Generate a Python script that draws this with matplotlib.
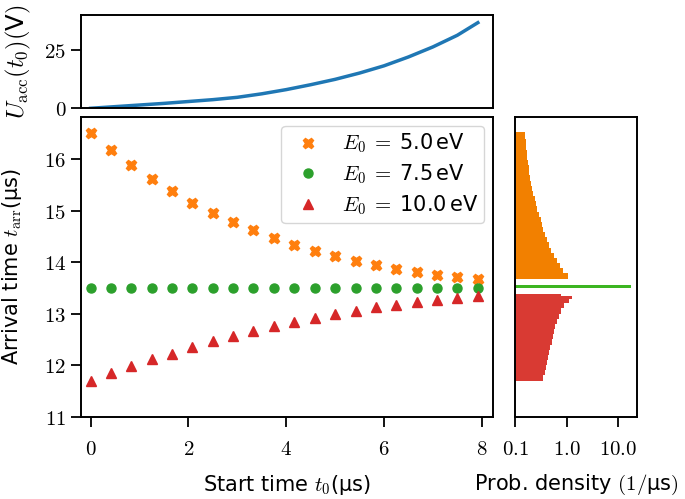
import numpy as np
import matplotlib
matplotlib.use("Agg")
import matplotlib.pyplot as plt
from matplotlib.ticker import NullLocator

plt.rcParams['mathtext.fontset'] = 'cm'
plt.rcParams['font.family'] = ['DejaVu Sans']
plt.rcParams['axes.linewidth'] = 1.4
plt.rcParams['xtick.major.width'] = 1.3
plt.rcParams['ytick.major.width'] = 1.3
plt.rcParams['xtick.major.size'] = 7
plt.rcParams['ytick.major.size'] = 7

# start times of the simulated electrons (us)
t0 = [0.00, 0.42, 0.83, 1.25, 1.67, 2.08, 2.50, 2.92, 3.33, 3.75,
      4.17, 4.58, 5.00, 5.42, 5.83, 6.25, 6.67, 7.08, 7.50, 7.92]

t_arr_5 = [16.51, 16.18, 15.89, 15.62, 15.37, 15.15, 14.96, 14.77, 14.62, 14.47,
           14.34, 14.22, 14.12, 14.02, 13.95, 13.87, 13.80, 13.75, 13.71, 13.67]
t_arr_75 = [13.50] * 20
t_arr_10 = [11.70, 11.84, 11.98, 12.11, 12.22, 12.35, 12.46, 12.56, 12.66, 12.75,
            12.84, 12.92, 12.99, 13.06, 13.12, 13.17, 13.23, 13.27, 13.31, 13.34]

# accelerating voltage ramp
u_t = [0.0, 0.5, 1.0, 1.5, 2.0, 2.5, 3.0, 3.5, 4.0, 4.5, 5.0, 5.5, 6.0, 6.5, 7.0, 7.5, 7.92]
u_acc = [0.0, 0.7, 1.4, 2.1, 2.9, 3.7, 4.7, 6.2, 8.0, 10.1, 12.4, 15.1, 18.2, 22.0, 26.3, 31.3, 36.7]

# arrival time histograms (prob. density, 1/us)
orange_edges = [13.68, 13.78, 13.88, 13.98, 14.08, 14.18, 14.28, 14.38, 14.48, 14.58,
                14.68, 14.78, 14.88, 14.98, 15.08, 15.18, 15.28, 15.38, 15.48, 15.58,
                15.68, 15.78, 15.88, 15.98, 16.08, 16.18, 16.28, 16.38, 16.48, 16.52]
orange_dens = [1.08, 0.86, 0.74, 0.65, 0.57, 0.50, 0.45, 0.41, 0.38, 0.35,
               0.33, 0.31, 0.285, 0.265, 0.25, 0.235, 0.222, 0.212, 0.202, 0.194,
               0.186, 0.180, 0.174, 0.169, 0.165, 0.160, 0.157, 0.153, 0.152]
red_edges = [11.70, 11.80, 11.90, 12.00, 12.10, 12.20, 12.30, 12.40, 12.50, 12.60,
             12.70, 12.80, 12.90, 13.00, 13.10, 13.20, 13.28, 13.34, 13.38]
red_dens = [0.35, 0.38, 0.40, 0.415, 0.43, 0.46, 0.48, 0.51, 0.53, 0.56,
            0.60, 0.65, 0.71, 0.78, 0.90, 1.10, 1.28, 0.77]
green_edges = [13.49, 13.555]
green_dens = [17.4]

x_ticks = [0, 2, 4, 6, 8]
y_ticks = [11, 12, 13, 14, 15, 16]
u_ticks = [0, 25]
d_ticks = [0.1, 1.0, 10.0]

fig = plt.figure(figsize=(6.85, 4.99), dpi=100)
ax_top = fig.add_axes([0.118, 0.783, 0.601, 0.187])
ax = fig.add_axes([0.118, 0.165, 0.601, 0.600])
ax_h = fig.add_axes([0.7523, 0.165, 0.178, 0.600])

fs = 15

# top: voltage
ax_top.plot(u_t, u_acc, color='#1f77b4', lw=2.5)
ax_top.set_xlim(-0.2, 8.22)
ax_top.set_ylim(0, 40)
ax_top.set_yticks(u_ticks)
ax_top.set_yticklabels([f'${v}$' for v in u_ticks], fontsize=fs)
ax_top.tick_params(bottom=False, labelbottom=False)
ax_top.set_ylabel(r'$U_\mathrm{acc}(t_0)($V$)$', fontsize=17.5, labelpad=8)

# main scatter
ax.plot(t0, t_arr_5, 'X', color='#ff7f0e', ms=7.5, ls='', label=r'$E_0\;=\;$5.0$\,$eV')
ax.plot(t0, t_arr_75, 'o', color='#2ca02c', ms=6.5, ls='', label=r'$E_0\;=\;$7.5$\,$eV')
ax.plot(t0, t_arr_10, '^', color='#d62728', ms=6.5, ls='', label=r'$E_0\;=\;$10.0$\,$eV')
ax.set_xlim(-0.2, 8.22)
ax.set_ylim(11, 16.81)
ax.set_xticks(x_ticks)
ax.set_xticklabels([f'${v}$' for v in x_ticks], fontsize=fs)
ax.set_yticks(y_ticks)
ax.set_yticklabels([f'${v}$' for v in y_ticks], fontsize=fs)
ax.tick_params(axis='x', pad=9)
ax.set_xlabel(r'Start time $t_0$(μs)', fontsize=fs, labelpad=10)
ax.set_ylabel(r'Arrival time $t_\mathrm{arr}$(μs)', fontsize=fs, labelpad=14)
ax.legend(loc='upper right', fontsize=fs, handletextpad=0.6, borderaxespad=0.4,
          borderpad=0.3, labelspacing=0.35)

# histogram
for edges, dens, col in [(orange_edges, orange_dens, '#f28000'),
                         (green_edges, green_dens, '#3cb521'),
                         (red_edges, red_dens, '#d93a33')]:
    ax_h.barh(edges[:-1], dens, height=np.diff(edges), left=1e-3,
              align='edge', color=col, linewidth=0)
ax_h.set_xscale('log')
ax_h.set_xlim(0.1, 23.5)
ax_h.set_ylim(11, 16.81)
ax_h.set_xticks(d_ticks)
ax_h.set_xticklabels([f'${v}$' for v in d_ticks], fontsize=fs)
ax_h.xaxis.set_minor_locator(NullLocator())
ax_h.tick_params(left=False, labelleft=False)
ax_h.tick_params(axis='x', pad=9)
ax_h.set_xlabel(r'Prob. density $(1/$μs$)$', fontsize=fs, labelpad=10)

fig.savefig('out.png', dpi=100)
